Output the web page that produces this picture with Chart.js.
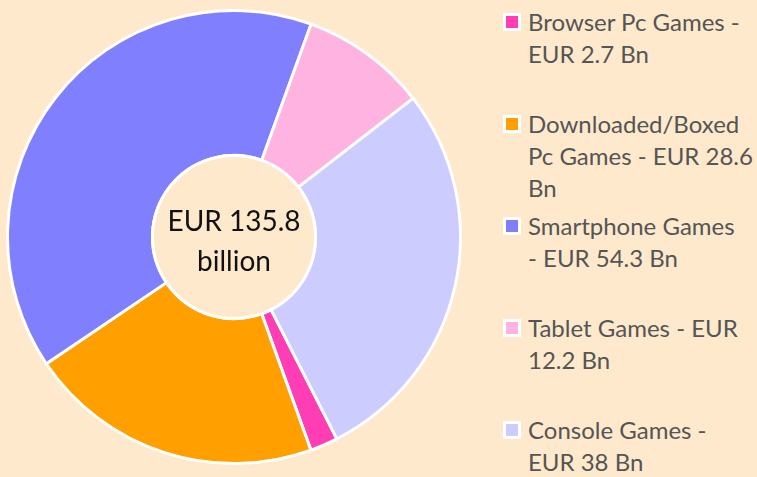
<!DOCTYPE html>
<html>
<head>
<meta charset="utf-8">
<script src="https://cdn.jsdelivr.net/npm/chart.js@4/dist/chart.umd.min.js"></script>
<style>
  html, body { margin: 0; padding: 0; }
  body { width: 757px; height: 477px; background: #fee9cc; position: relative; overflow: hidden; font-family: "Lato", sans-serif; }
  #chartWrap { position: absolute; left: 6px; top: 9px; width: 456px; height: 456px; }
  #legend { position: absolute; left: 503px; top: 6px; width: 254px; }
  .item { height: 102px; position: relative; padding-left: 25px; font-size: 24px; line-height: 32px; color: #555; white-space: nowrap; }
  .box { position: absolute; left: 0; top: 7px; width: 12px; height: 12px; border: 3px solid #fff; }
</style>
</head>
<body>
<div id="chartWrap"><canvas id="pie"></canvas></div>
<div id="legend"></div>
<script>
const categories = ["Browser Pc Games", "Downloaded/Boxed Pc Games", "Smartphone Games", "Tablet Games", "Console Games"];
const values = [2.7, 28.6, 54.3, 12.2, 38];
const totalLabel = ["EUR 135.8", "billion"];
const colors = ["#ff3eb5", "#ff9f00", "#8080ff", "#ffb3e0", "#ccccff"];
// legend labels as wrapped in the original
const legendLines = [
  ["Browser Pc Games -", "EUR 2.7 Bn"],
  ["Downloaded/Boxed", "Pc Games - EUR 28.6", "Bn"],
  ["Smartphone Games", "- EUR 54.3 Bn"],
  ["Tablet Games - EUR", "12.2 Bn"],
  ["Console Games -", "EUR 38 Bn"],
];

const legend = document.getElementById("legend");
categories.forEach(function (name, i) {
  const item = document.createElement("div");
  item.className = "item";
  item.innerHTML = '<span class="box" style="background:' + colors[i] + '"></span>' +
    legendLines[i].join("<br>");
  legend.appendChild(item);
});

const centerPlugin = {
  id: "centerText",
  afterDraw: function (chart) {
    const meta = chart.getDatasetMeta(0).data[0];
    const ctx = chart.ctx;
    ctx.save();
    ctx.beginPath();
    ctx.arc(meta.x, meta.y, meta.innerRadius, 0, Math.PI * 2);
    ctx.fillStyle = "#fee9cc";
    ctx.fill();
    ctx.lineWidth = 3;
    ctx.strokeStyle = "#ffffff";
    ctx.stroke();
    ctx.fillStyle = "#111";
    ctx.font = "28px Lato, sans-serif";
    ctx.textAlign = "center";
    ctx.textBaseline = "middle";
    ctx.fillText(totalLabel[0], meta.x, meta.y - 15);
    ctx.fillText(totalLabel[1], meta.x, meta.y + 25);
    ctx.restore();
  },
};

new Chart(document.getElementById("pie").getContext("2d"), {
  type: "doughnut",
  data: {
    labels: categories,
    datasets: [
      {
        data: values,
        backgroundColor: colors,
        borderColor: "#ffffff",
        borderWidth: 3,
      },
    ],
  },
  options: {
    responsive: true,
    maintainAspectRatio: false,
    animation: false,
    rotation: 153,
    cutout: "36%",
    plugins: {
      legend: { display: false },
      tooltip: { enabled: false },
    },
  },
  plugins: [centerPlugin],
});
</script>
</body>
</html>
